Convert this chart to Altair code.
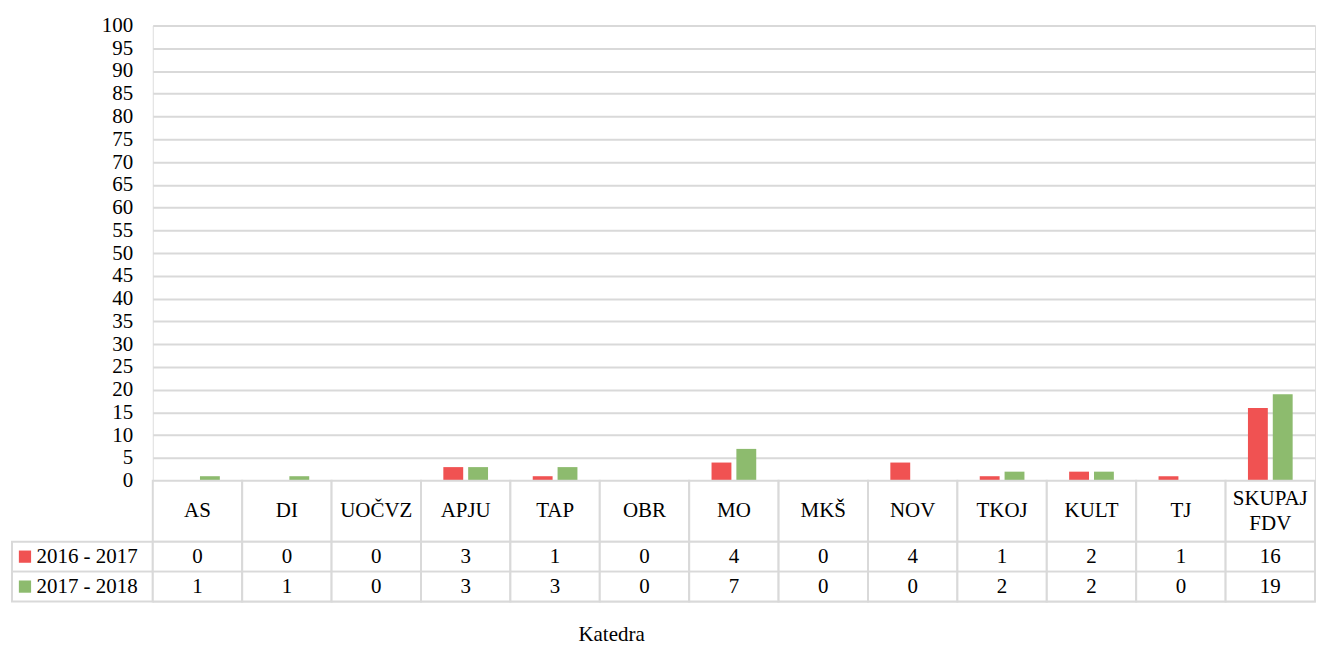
import altair as alt
import pandas as pd

cats = ["AS", "DI", "UOČVZ", "APJU", "TAP", "OBR", "MO", "MKŠ", "NOV", "TKOJ", "KULT", "TJ", "SKUPAJ FDV"]
cat_labels = ["AS", "DI", "UOČVZ", "APJU", "TAP", "OBR", "MO", "MKŠ", "NOV", "TKOJ", "KULT", "TJ", "SKUPAJ\nFDV"]
series = ["2016 - 2017", "2017 - 2018"]
v1617 = [0, 0, 0, 3, 1, 0, 4, 0, 4, 1, 2, 1, 16]
v1718 = [1, 1, 0, 3, 3, 0, 7, 0, 0, 2, 2, 0, 19]
colors = ["#F05252", "#8DBB6E"]
y_ticks = list(range(0, 101, 5))

FONT = "Liberation Serif"
FS = 21
GRID = "#D9D9D9"
W = 1164

rows = []
for s, vals in zip(series, [v1617, v1718]):
    for c, v in zip(cats, vals):
        rows.append({"cat": c, "series": s, "value": v})
df = pd.DataFrame(rows)
hdr = pd.DataFrame({"cat": cats, "label": cat_labels})
hdr["multi"] = hdr["label"].str.contains("\n")
lbl = pd.DataFrame({"series": series})

color_scale = alt.Scale(domain=series, range=colors)

bars = alt.Chart(df).mark_bar().encode(
    x=alt.X("cat:N", sort=cats, axis=None,
            scale=alt.Scale(paddingInner=0.5, paddingOuter=0.25)),
    xOffset=alt.XOffset("series:N", sort=series,
                        scale=alt.Scale(paddingInner=0.2, paddingOuter=0)),
    y=alt.Y("value:Q", scale=alt.Scale(domain=[0, 100], nice=False),
            axis=alt.Axis(values=y_ticks, title=None, domain=False, ticks=False,
                          grid=True, gridColor=GRID, gridWidth=2,
                          labelFont=FONT, labelFontSize=FS, labelColor="#000000",
                          labelPadding=20)),
    color=alt.Color("series:N", scale=color_scale, legend=None),
).properties(width=W, height=456)

xh = alt.X("cat:N", sort=cats, axis=None, scale=alt.Scale(paddingInner=0, paddingOuter=0))
header_cells = alt.Chart(hdr).mark_rect(fill="white", stroke=GRID, strokeWidth=2).encode(x=xh)
header_text1 = alt.Chart(hdr).transform_filter("!datum.multi").mark_text(
    font=FONT, fontSize=FS, color="#000000", baseline="middle").encode(x=xh, text="label:N")
header_text2 = alt.Chart(hdr).transform_filter("datum.multi").mark_text(
    font=FONT, fontSize=FS, color="#000000", lineBreak="\n", lineHeight=25,
    baseline="middle", dy=-12.5).encode(x=xh, text="label:N")
header = alt.layer(header_cells, header_text1, header_text2).properties(width=W, height=61)

xv = alt.X("cat:N", sort=cats, scale=alt.Scale(paddingInner=0, paddingOuter=0),
           axis=alt.Axis(labels=False, ticks=False, domain=False, title="Katedra",
                         titleFont=FONT, titleFontSize=FS, titleFontWeight="normal",
                         titleColor="#000000", titleX=459, titlePadding=22))
yv = alt.Y("series:N", sort=series, scale=alt.Scale(paddingInner=0, paddingOuter=0),
           axis=alt.Axis(title=None, domain=False, ticks=False, labelAlign="left",
                         labelPadding=117, labelFont=FONT, labelFontSize=FS,
                         labelColor="#000000"))
val_cells = alt.Chart(df).mark_rect(fill="white", stroke=GRID, strokeWidth=2).encode(x=xv, y=yv)
val_text = alt.Chart(df).mark_text(font=FONT, fontSize=FS, color="#000000", baseline="middle").encode(
    x=xv, y=yv, text="value:Q")
lbl_cells = alt.Chart(lbl).mark_rect(fill="white", stroke=GRID, strokeWidth=2).encode(
    x=alt.value(-141), x2=alt.value(0), y=yv)
swatch = alt.Chart(lbl).mark_square(size=150, opacity=1).encode(
    x=alt.value(-128), y=yv,
    color=alt.Color("series:N", scale=color_scale, legend=None))
values = alt.layer(lbl_cells, val_cells, val_text, swatch).properties(width=W, height=60)

chart = alt.vconcat(bars, header, values, spacing=0, bounds="flush").resolve_scale(
    x="independent", color="shared"
).properties(
    padding={"left": 2, "top": 5, "right": 0, "bottom": 0}
).configure_view(stroke=None).configure(background="white")

chart.save("out.html", embed_options={"renderer": "svg", "actions": False})
